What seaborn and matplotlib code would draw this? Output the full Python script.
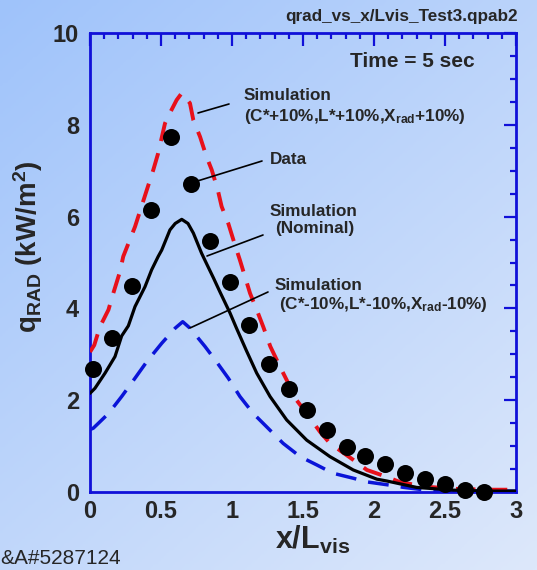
import numpy as np
import pandas as pd
import matplotlib
matplotlib.use("Agg")
import matplotlib.pyplot as plt
from matplotlib.colors import LinearSegmentedColormap
import seaborn as sns

# ---------------- data ----------------
data_x = [0.02, 0.157, 0.295, 0.433, 0.57, 0.71, 0.845, 0.983, 1.12, 1.26, 1.40,
          1.53, 1.67, 1.81, 1.94, 2.08, 2.22, 2.36, 2.50, 2.64, 2.775]
data_y = [2.69, 3.36, 4.49, 6.14, 7.74, 6.71, 5.47, 4.58, 3.63, 2.79, 2.25,
          1.79, 1.36, 0.99, 0.79, 0.60, 0.42, 0.28, 0.17, 0.04, 0.0]

nom_x = [0.0, 0.035, 0.106, 0.176, 0.223, 0.27, 0.317, 0.387, 0.434, 0.48, 0.505,
         0.563, 0.60, 0.646, 0.69, 0.728, 0.786, 0.82, 0.87, 0.915, 0.986, 1.03,
         1.10, 1.174, 1.268, 1.385, 1.526, 1.69, 1.854, 2.02, 2.09, 2.30, 2.56,
         2.8, 3.0]
nom_y = [2.15, 2.26, 2.59, 2.95, 3.40, 3.62, 4.04, 4.47, 4.84, 5.13, 5.27,
         5.71, 5.85, 5.94, 5.85, 5.64, 5.20, 4.98, 4.66, 4.36, 3.90, 3.58,
         3.09, 2.59, 2.08, 1.57, 1.13, 0.77, 0.48, 0.28, 0.24, 0.10, 0.04,
         0.02, 0.02]

plus_x = [0.0, 0.03, 0.07, 0.13, 0.164, 0.211, 0.234, 0.317, 0.40, 0.446, 0.48,
          0.528, 0.55, 0.61, 0.646, 0.704, 0.728, 0.775, 0.82, 0.857, 0.90, 0.927,
          0.974, 1.01, 1.056, 1.127, 1.174, 1.22, 1.27, 1.338, 1.385, 1.455, 1.526,
          1.62, 1.69, 1.854, 1.95, 2.09, 2.18, 2.35, 2.56, 2.8, 3.0]
plus_y = [3.05, 3.20, 3.60, 3.97, 4.33, 4.80, 5.13, 5.78, 6.58, 7.02, 7.38,
          8.03, 8.18, 8.54, 8.69, 8.47, 8.10, 7.74, 7.31, 7.02, 6.58, 6.22,
          5.85, 5.49, 5.05, 4.33, 3.97, 3.60, 3.17, 2.73, 2.44, 2.00, 1.71,
          1.31, 1.06, 0.70, 0.48, 0.33, 0.22, 0.12, 0.07, 0.05, 0.05]

minus_x = [0.0, 0.023, 0.06, 0.13, 0.223, 0.317, 0.40, 0.505, 0.60, 0.653, 0.704,
           0.81, 0.89, 0.974, 1.056, 1.15, 1.244, 1.36, 1.48, 1.597, 1.71, 1.854,
           1.95, 2.11, 2.21, 2.4, 2.7, 3.0]
minus_y = [1.36, 1.39, 1.50, 1.71, 2.08, 2.48, 2.84, 3.24, 3.57, 3.71, 3.57,
           3.17, 2.84, 2.48, 2.08, 1.71, 1.42, 1.06, 0.77, 0.59, 0.41, 0.30,
           0.22, 0.15, 0.10, 0.03, 0.02, 0.02]

x_ticks = [0, 0.5, 1, 1.5, 2, 2.5, 3]
x_tick_labels = ["0", "0.5", "1", "1.5", "2", "2.5", "3"]
y_ticks = [0, 2, 4, 6, 8, 10]
y_tick_labels = ["0", "2", "4", "6", "8", "10"]

# ---------------- style ----------------
sns.set_style("white")
plt.rcParams["font.family"] = ["Liberation Sans", "DejaVu Sans"]
plt.rcParams["font.weight"] = "bold"
plt.rcParams["mathtext.fontset"] = "custom"
plt.rcParams["mathtext.rm"] = "Liberation Sans:bold"
plt.rcParams["mathtext.it"] = "Liberation Sans:bold"
plt.rcParams["mathtext.bf"] = "Liberation Sans:bold"

W, H = 537, 570
fig = plt.figure(figsize=(W / 100, H / 100), dpi=100)

# background gradient
bg = fig.add_axes([0, 0, 1, 1], zorder=-10)
yy, xx = np.mgrid[0:1:200j, 0:1:200j]
grad = (xx * 0.45 + yy * 0.55)
cmap = LinearSegmentedColormap.from_list("bg", ["#9fc3fa", "#dde8fb"])
bg.imshow(grad, cmap=cmap, aspect="auto", extent=[0, 1, 0, 1], origin="upper")
bg.set_axis_off()

def fx(px):
    return px / W

def fy(py):
    return 1 - py / H

ax = fig.add_axes([fx(90), fy(492), fx(516) - fx(90), fy(33) - fy(492)])
ax.set_facecolor("none")

df_nom = pd.DataFrame({"x": nom_x, "y": nom_y})
df_plus = pd.DataFrame({"x": plus_x, "y": plus_y})
df_minus = pd.DataFrame({"x": minus_x, "y": minus_y})
df_data = pd.DataFrame({"x": data_x, "y": data_y})

sns.lineplot(data=df_minus, x="x", y="y", ax=ax, color="#0a14d8", lw=2.5,
             sort=False, estimator=None, zorder=2)
ax.lines[-1].set_dashes([6, 3.5])
sns.lineplot(data=df_plus, x="x", y="y", ax=ax, color="#e8101a", lw=2.8,
             sort=False, estimator=None, zorder=3)
ax.lines[-1].set_dashes([5, 3.2])
sns.lineplot(data=df_nom, x="x", y="y", ax=ax, color="black", lw=2.3,
             sort=False, estimator=None, zorder=4)
sns.scatterplot(data=df_data, x="x", y="y", ax=ax, color="black", s=150,
                edgecolor="black", linewidth=0, zorder=5, clip_on=False)

ax.set_xlim(0, 3)
ax.set_ylim(0, 10)
ax.set_xticks(x_ticks)
ax.set_xticklabels(x_tick_labels)
ax.set_yticks(y_ticks)
ax.set_yticklabels(y_tick_labels)
ax.set_xticks(np.arange(0, 3.001, 0.1), minor=True)
ax.set_yticks(np.arange(0, 10.001, 0.5), minor=True)

blue = "#1010d8"
for s in ax.spines.values():
    s.set_color(blue)
    s.set_linewidth(2.0)
    s.set_visible(True)
ax.tick_params(which="both", direction="in", top=True, right=True,
               color=blue, width=1.6)
ax.tick_params(which="major", length=9, labelsize=17, pad=6)
ax.tick_params(which="minor", length=4.5)
ax.tick_params(axis="y", which="major", pad=8)
for lab in ax.get_xticklabels() + ax.get_yticklabels():
    lab.set_fontweight("bold")

ax.set_xlabel("")
ax.set_ylabel("")
fig.text(fx(313), fy(540), r"x/L$_{\mathregular{vis}}$", fontsize=22,
         fontweight="bold", ha="center", va="center")
fig.text(fx(28), fy(247), r"q$_{\mathregular{RAD}}$ (kW/m$^{\mathregular{2}}$)",
         fontsize=20, fontweight="bold", rotation=90, ha="center", va="center")

fig.text(fx(518), fy(17), "qrad_vs_x/Lvis_Test3.qpab2", fontsize=12.3,
         fontweight="bold", ha="right", va="center")
fig.text(fx(0), fy(558), "&A#5287124", fontsize=15, fontweight="normal",
         ha="left", va="center")

ax.text(*(((350 - 90) / 142.0), (492 - 62) / 45.9), "Time = 5 sec", fontsize=15,
        fontweight="bold", ha="left", va="center")

def px2d(px, py):
    return ((px - 90) / 142.0, (492 - py) / 45.9)

ann_fs = 12.3
# +10%
ax.plot(*zip(px2d(198, 113), px2d(229, 104)), color="black", lw=1.2, zorder=6)
ax.text(*px2d(244, 96), "Simulation", fontsize=ann_fs, fontweight="bold", va="center")
ax.text(*px2d(244, 117), r"(C*+10%,L*+10%,X$_{\mathregular{rad}}$+10%)",
        fontsize=ann_fs, fontweight="bold", va="center")
# Data
ax.plot(*zip(px2d(191, 183), px2d(262, 161)), color="black", lw=1.2, zorder=6)
ax.text(*px2d(270, 160), "Data", fontsize=ann_fs, fontweight="bold", va="center")
# Nominal
ax.plot(*zip(px2d(207, 256), px2d(263, 235)), color="black", lw=1.2, zorder=6)
ax.text(*px2d(270, 212), "Simulation", fontsize=ann_fs, fontweight="bold", va="center")
ax.text(*px2d(275, 229), "(Nominal)", fontsize=ann_fs, fontweight="bold", va="center")
# -10%
ax.plot(*zip(px2d(190, 328), px2d(268, 292)), color="black", lw=1.2, zorder=6)
ax.text(*px2d(275, 285), "Simulation", fontsize=ann_fs, fontweight="bold", va="center")
ax.text(*px2d(279, 304), r"(C*-10%,L*-10%,X$_{\mathregular{rad}}$-10%)",
        fontsize=ann_fs, fontweight="bold", va="center")

fig.savefig("out.png", dpi=100)
